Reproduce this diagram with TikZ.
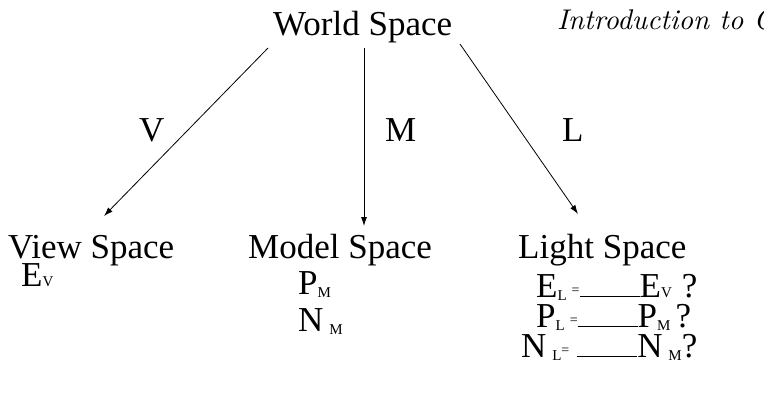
\documentclass[tikz,border=0pt]{standalone}
\usepackage{fontspec}
\newfontfamily\lmit{lmroman10-italic.otf}
\setmainfont{Liberation Serif}
\usetikzlibrary{arrows.meta}
\newcommand{\bigtxt}{\fontsize{35}{38}\selectfont}
\newcommand{\sbs}[2][-3pt]{\raisebox{#1}{\fontsize{15}{15}\selectfont #2}}
\newcommand{\eqs}{\raisebox{3pt}{\fontsize{14}{14}\selectfont =}}
\newcommand{\blank}{\rule{60pt}{0.8pt}}
\begin{document}
\begin{tikzpicture}[x=1pt,y=1pt,
  lbl/.style={inner sep=0pt,anchor=base west,font=\bigtxt},
  arr/.style={-{Latex[length=9pt,width=6pt]},line width=0.8pt}]
\useasboundingbox (0,0) rectangle (764,-392);
\clip (0,0) rectangle (764,-392);
\node[lbl] (ws) at (273,-35) {World Space};
\node[inner sep=0pt,anchor=base west,font=\lmit\fontsize{28.5}{30}\selectfont] (intro) at (557,-29) {Introduction to C};
\coordinate (wsv) at (268,-48);
\coordinate (wsm) at (364,-48);
\coordinate (wsl) at (460,-44);
\coordinate (vt) at (104,-216);
\coordinate (mt) at (364,-226);
\coordinate (lt) at (578,-214);
\draw[arr] (wsv) -- (vt);
\draw[arr] (wsm) -- (mt);
\draw[arr] (wsl) -- (lt);
\node[lbl] (lv) at (139,-141) {V};
\node[lbl] (lm) at (385,-141) {M};
\node[lbl] (ll) at (562,-141) {L};
\node[lbl] (vs) at (8,-258) {View Space};
\node[lbl] (ev) at (21,-286) {E\sbs[0pt]{V}};
\node[lbl] (ms) at (248,-258) {Model Space};
\node[lbl] (pm) at (298,-294) {P\sbs{M}};
\node[lbl] (nm) at (298,-331) {N\,\sbs{M}};
\node[lbl] (ls) at (518,-258) {Light Space};
\node[lbl] (el) at (536,-297) {E\sbs{L}\hspace{5pt}\eqs\blank E\sbs[0pt]{V}\hspace{10pt}?};
\node[lbl] (pl) at (536,-327) {P\sbs{L}\hspace{5pt}\eqs\blank P\sbs{M}\hspace{5pt}?};
\node[lbl] (nl) at (521,-357) {N\,\sbs{L}\eqs\hspace{8pt}\blank N\,\sbs{M}?};
\end{tikzpicture}
\end{document}
